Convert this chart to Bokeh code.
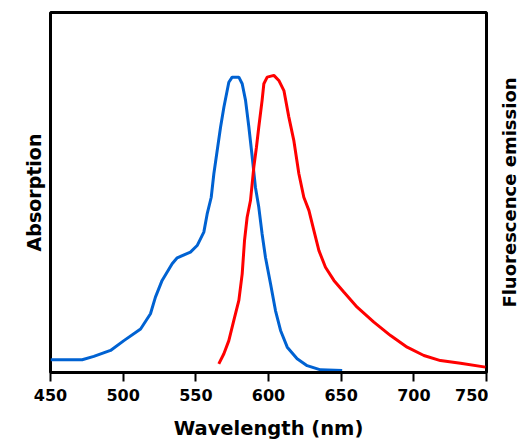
from bokeh.plotting import figure
from bokeh.models import Range1d, FixedTicker
from bokeh.layouts import row
from bokeh.embed import file_html
from bokeh.resources import INLINE

# Absorption spectrum (blue)
abs_wl = [450, 471.8, 479.8, 491.3, 500.5, 512, 518.8, 522.2, 526.8, 533.7, 537.2,
          546.3, 550.9, 555.5, 557.8, 560.6, 562.4, 564.7, 567, 569.3, 572.7, 575,
          579.6, 581.9, 584.2, 586.5, 588.8, 591, 593.3, 595.6, 597.9, 601.4, 604.8,
          608.3, 612.9, 619.7, 626.6, 635.8, 650.7]
abs_val = [0.043, 0.043, 0.054, 0.074, 0.107, 0.146, 0.197, 0.253, 0.309, 0.365, 0.385,
           0.404, 0.426, 0.471, 0.532, 0.588, 0.667, 0.745, 0.823, 0.890, 0.974, 0.991,
           0.991, 0.969, 0.913, 0.823, 0.723, 0.622, 0.555, 0.465, 0.387, 0.298, 0.208,
           0.141, 0.085, 0.046, 0.023, 0.009, 0.007]

# Fluorescence emission spectrum (red)
em_wl = [565.8, 569.3, 572.7, 576.1, 579.6, 581.9, 583.5, 585.3, 587.6, 589.9, 591.7,
         593.3, 595.6, 596.8, 599.1, 603.7, 607.1, 610.6, 614, 617.4, 620.9, 624.3,
         627.8, 631.2, 634.7, 639.2, 645, 651.8, 661, 672.5, 684, 695.4, 706.9, 718.3,
         732.1, 749.3]
em_val = [0.029, 0.063, 0.107, 0.174, 0.242, 0.331, 0.443, 0.521, 0.577, 0.689, 0.756,
          0.823, 0.913, 0.969, 0.991, 0.997, 0.980, 0.946, 0.857, 0.779, 0.667, 0.588,
          0.544, 0.477, 0.409, 0.353, 0.309, 0.270, 0.219, 0.169, 0.124, 0.085, 0.057,
          0.040, 0.031, 0.018]

x_ticks = [450, 500, 550, 600, 650, 700, 750]
x_label = "Wavelength (nm)"
y_left_label = "Absorption"
y_right_label = "Fluorescence emission"

FONT = "DejaVu Sans"

p = figure(width=488, height=442, output_backend="svg", toolbar_location=None,
           x_range=Range1d(450, 750), y_range=Range1d(0, 1.208),
           min_border_left=50, min_border_right=2, min_border_top=12,
           min_border_bottom=70)
p.background_fill_color = "white"
p.border_fill_color = "white"
p.grid.visible = False
p.outline_line_color = "black"
p.outline_line_width = 3

p.line(abs_wl, abs_val, line_color="#0062D2", line_width=3)
p.line(em_wl, em_val, line_color="#FF0000", line_width=3)

xa = p.xaxis[0]
xa.ticker = FixedTicker(ticks=x_ticks)
xa.axis_line_width = 3
xa.major_tick_line_width = 2
xa.major_tick_out = 9
xa.major_tick_in = 0
xa.minor_tick_line_color = None
xa.major_label_text_font = FONT
xa.major_label_text_font_style = "bold"
xa.major_label_text_font_size = "16px"
xa.major_label_text_color = "black"
xa.major_label_standoff = 7
xa.axis_label = x_label
xa.axis_label_text_font = FONT
xa.axis_label_text_font_style = "bold"
xa.axis_label_text_font_size = "19.5px"
xa.axis_label_text_color = "black"
xa.axis_label_standoff = 13


def style_y(ax, label, size, standoff):
    ax.ticker = FixedTicker(ticks=[])
    ax.axis_line_color = None
    ax.major_tick_out = 0
    ax.major_tick_in = 0
    ax.minor_tick_line_color = None
    ax.major_label_text_font_size = "0px"
    ax.axis_label = label
    ax.axis_label_text_font = FONT
    ax.axis_label_text_font_style = "bold"
    ax.axis_label_text_font_size = size
    ax.axis_label_text_color = "black"
    ax.axis_label_standoff = standoff


style_y(p.yaxis[0], y_left_label, "19px", 6)

# Narrow companion panel that carries the right-hand axis title
p2 = figure(width=38, height=442, output_backend="svg", toolbar_location=None,
            x_range=Range1d(0, 1), y_range=Range1d(0, 1),
            min_border_left=34, min_border_right=0, min_border_top=12,
            min_border_bottom=70)
p2.background_fill_color = "white"
p2.border_fill_color = "white"
p2.outline_line_color = None
p2.grid.visible = False
p2.xaxis.visible = False
p2.scatter([0.5], [0.5], size=0, alpha=0)
style_y(p2.yaxis[0], y_right_label, "18px", 3)

layout = row(p, p2, spacing=0)
open("out.html", "w").write(file_html(layout, INLINE))
